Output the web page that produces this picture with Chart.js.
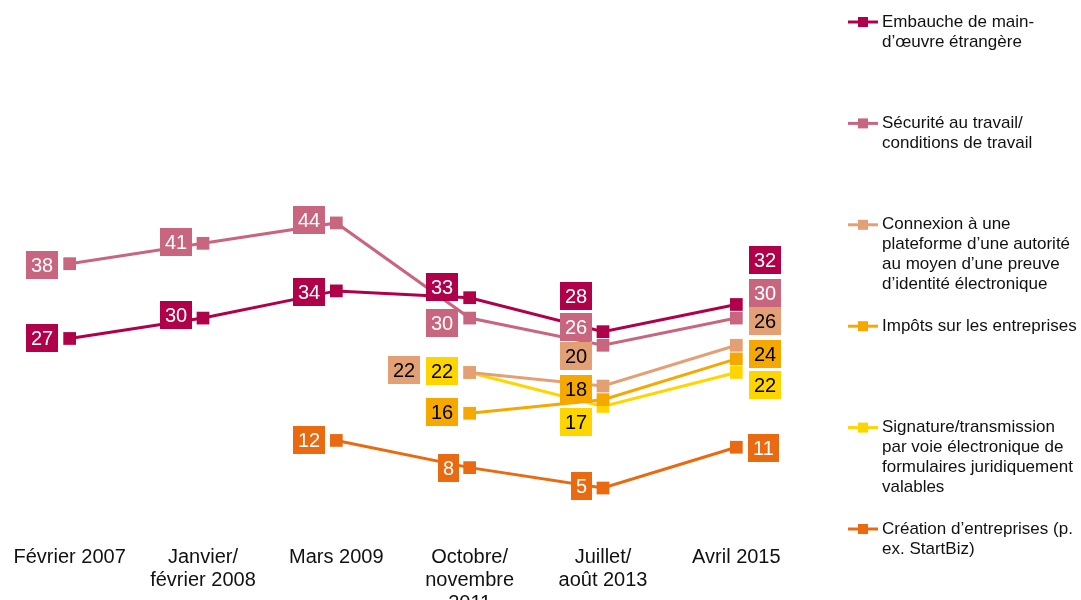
<!DOCTYPE html>
<html><head><meta charset="utf-8">
<script src="https://cdn.jsdelivr.net/npm/chart.js@4"></script>
<style>html,body{margin:0;padding:0;background:#fff;overflow:hidden}canvas{display:block}</style>
</head><body>
<canvas id="c" width="1081" height="600"></canvas>
<script>
// ---- data ----
const categories = [["Février 2007"], ["Janvier/", "février 2008"], ["Mars 2009"], ["Octobre/", "novembre", "2011"], ["Juillet/", "août 2013"], ["Avril 2015"]];
const embauche  = [27, 30, 34, 33, 28, 32];
const securite  = [38, 41, 44, 30, 26, 30];
const connexion = [null, null, null, 22, 20, 26];
const impots    = [null, null, null, 16, 18, 24];
const signature = [null, null, null, 22, 17, 22];
const creation  = [null, null, 12, 8, 5, 11];
const seriesNames = [
  ["Embauche de main-", "d’œuvre étrangère"],
  ["Sécurité au travail/", "conditions de travail"],
  ["Connexion à une", "plateforme d’une autorité", "au moyen d’une preuve", "d’identité électronique"],
  ["Impôts sur les entreprises"],
  ["Signature/transmission", "par voie électronique de", "formulaires juridiquement", "valables"],
  ["Création d’entreprises (p.", "ex. StartBiz)"]
];

// ---- styles ----
const colors = ["#B0004A", "#C9667F", "#E3A074", "#F5A800", "#FFD500", "#E96A10"];
const labelTextColors = ["#fff", "#fff", "#000", "#000", "#000", "#fff"];
// label placement per point: [dx, dy]; dx<0 => box ends at x+dx, dx>0 => box starts at x+dx
const labelPlacement = [
  [[-11, 0], [-11, -3], [-11, 1], [-11, -11], [-11, -36], [13, -44]],
  [[-11, 1], [-11, -1], [-11, -3], [-11, 5], [-11, -18], [13, -25]],
  [null, null, null, [-49, -2], [-11, -30], [13, -24]],
  [null, null, null, [-11, -1], [-11, -11], [13, -5]],
  [null, null, null, [-11, -1], [-11, 16], [13, 13]],
  [null, null, [-11, 0], [-11, 0], [-11, -2], [12, 1]]
];
const FONT = "'Liberation Sans', Arial, sans-serif";

const allSeries = [embauche, securite, connexion, impots, signature, creation];

const dataLabels = {
  id: 'dataLabels',
  afterDatasetsDraw(chart) {
    const ctx = chart.ctx;
    ctx.save();
    ctx.font = "20px " + FONT;
    ctx.textBaseline = 'middle';
    ctx.textAlign = 'center';
    chart.data.datasets.forEach((ds, i) => {
      const meta = chart.getDatasetMeta(i);
      meta.data.forEach((pt, j) => {
        const v = ds.data[j];
        if (v === null || v === undefined) return;
        const pl = labelPlacement[i][j] || [-11, 0];
        const txt = String(v);
        const w = ctx.measureText(txt).width + 10;
        const h = 28;
        const left = pl[0] < 0 ? pt.x + pl[0] - w : pt.x + pl[0];
        const cy = pt.y + pl[1];
        ctx.fillStyle = colors[i];
        ctx.fillRect(Math.round(left), Math.round(cy - h / 2), Math.round(w), h);
        ctx.fillStyle = labelTextColors[i];
        ctx.fillText(txt, Math.round(left) + Math.round(w) / 2, Math.round(cy) + 1);
      });
    });
    ctx.restore();
  }
};

const sideLegend = {
  id: 'sideLegend',
  afterDraw(chart) {
    const ctx = chart.ctx;
    ctx.save();
    ctx.font = "17px " + FONT;
    ctx.textBaseline = 'middle';
    ctx.textAlign = 'left';
    seriesNames.forEach((lines, i) => {
      const y = 22 + i * 101.4;
      ctx.strokeStyle = colors[i];
      ctx.lineWidth = 3;
      ctx.beginPath();
      ctx.moveTo(848, y);
      ctx.lineTo(878, y);
      ctx.stroke();
      ctx.fillStyle = colors[i];
      ctx.fillRect(858, y - 5, 10, 10);
      ctx.fillStyle = '#111';
      lines.forEach((ln, k) => ctx.fillText(ln, 882, y + k * 20));
    });
    ctx.restore();
  }
};

new Chart(document.getElementById('c'), {
  type: 'line',
  data: {
    labels: categories,
    datasets: allSeries.map((s, i) => ({
      label: seriesNames[i].join(' '),
      data: s,
      borderColor: colors[i],
      backgroundColor: colors[i],
      borderWidth: 3,
      pointStyle: 'rect',
      pointRadius: 9,
      pointHoverRadius: 9,
      pointBorderWidth: 0,
      pointBackgroundColor: colors[i],
      tension: 0,
      spanGaps: false,
      clip: false
    }))
  },
  options: {
    responsive: false,
    animation: false,
    events: [],
    layout: { autoPadding: false, padding: { left: 3, right: 278, top: 19, bottom: 0 } },
    plugins: { legend: { display: false }, tooltip: { enabled: false }, title: { display: false } },
    scales: {
      x: {
        offset: true,
        grid: { display: false },
        border: { display: false },
        ticks: {
          color: '#111',
          font: { family: FONT, size: 20, lineHeight: 1.15 },
          padding: 0,
          autoSkip: false,
          maxRotation: 0,
          minRotation: 0
        },
        afterFit(scale) { scale.height = 62.5; }
      },
      y: {
        display: false,
        min: -2.28,
        max: 74
      }
    }
  },
  plugins: [dataLabels, sideLegend]
});
</script>
</body></html>
